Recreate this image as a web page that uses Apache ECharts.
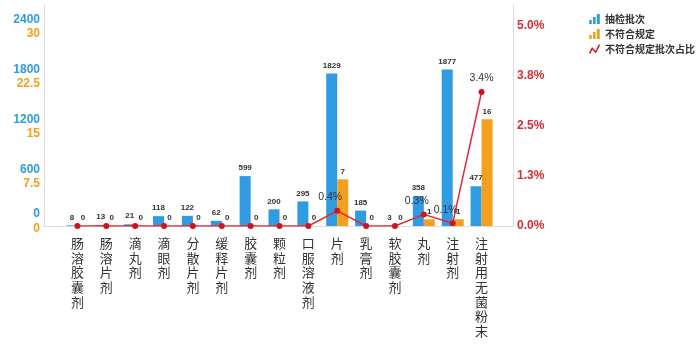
<!DOCTYPE html>
<html>
<head>
<meta charset="utf-8">
<script src="https://cdn.jsdelivr.net/npm/echarts@6/dist/echarts.min.js"></script>
<style>
html,body{margin:0;padding:0;background:#fff;}
#c{width:698px;height:353px;}
</style>
</head>
<body>
<div id="c"></div>
<script>
const categories = ['肠溶胶囊剂','肠溶片剂','滴丸剂','滴眼剂','分散片剂','缓释片剂','胶囊剂','颗粒剂','口服溶液剂','片剂','乳膏剂','软胶囊剂','丸剂','注射剂','注射用无菌粉末'];
const inspected = [8,13,21,118,122,62,599,200,295,1829,185,3,358,1877,477];
const failed = [0,0,0,0,0,0,0,0,0,7,0,0,1,1,16];
const failRatePct = [0,0,0,0,0,0,0,0,0,0.38,0,0,0.29,0.07,3.35];
const seriesNames = ['抽检批次','不符合规定','不符合规定批次占比'];

const BLUE = '#2f9be3', ORANGE = '#f5a01c', RED = '#e12b33';
const NUM_FONT = '"Liberation Sans", Arial, sans-serif';
const CJK_FONT = '"Noto Sans CJK SC", sans-serif';
const chart = echarts.init(document.getElementById('c'), null, {renderer:'canvas'});

const hiddenY = {axisLine:{show:false}, axisTick:{show:false}, splitLine:{show:false}};
const frameY = {type:'value', gridIndex:0, min:0, max:1, axisLine:{show:true, lineStyle:{color:'#dcdcdc'}}, axisTick:{show:false}, axisLabel:{show:false}, splitLine:{show:false}};

const option = {
  animation:false,
  backgroundColor:'#fff',
  legend:{
    orient:'vertical', left:584, top:9, itemGap:5, itemWidth:11, itemHeight:10,
    textStyle:{fontFamily:CJK_FONT, fontSize:10, fontWeight:'bold', color:'#333'},
    data:[
      {name:seriesNames[0], icon:'path://M0,6H2.6V10H0Z M3.8,3H6.4V10H3.8Z M7.6,0H10.6V10H7.6Z'},
      {name:seriesNames[1], icon:'path://M0,6H2.6V10H0Z M3.8,3H6.4V10H3.8Z M7.6,0H10.6V10H7.6Z'},
      {name:seriesNames[2], icon:'path://M0,9 L3,3 L6.5,7 L10,0 L11,1.2 L6.8,9.5 L3.3,5.5 L1.3,10 Z'}
    ]
  },
  grid:[
    {left:44, right:185, top:5, bottom:127},
    {left:63, right:202, top:26, bottom:127}
  ],
  xAxis:[
    {type:'value', gridIndex:0, min:0, max:1, axisLine:{show:true, onZero:false, lineStyle:{color:'#dcdcdc'}}, axisTick:{show:false}, axisLabel:{show:false}, splitLine:{show:false}},
    {type:'category', gridIndex:1, data:categories, offset:7,
      axisLine:{lineStyle:{color:'#dcdcdc'}},
      axisTick:{length:6, lineStyle:{color:'#dcdcdc'}},
      axisLabel:{interval:0, margin:3, fontFamily:CJK_FONT, fontSize:13, lineHeight:14.6, color:'#333',
        formatter:v=>v.split('').join('\n')}
    }
  ],
  yAxis:[
    Object.assign({position:'left'}, frameY),
    Object.assign({position:'right'}, frameY),
    Object.assign({type:'value', gridIndex:1, position:'left', offset:19, min:0, max:2400, interval:600,
      axisLabel:{margin:4, verticalAlign:'bottom', color:BLUE, fontFamily:NUM_FONT, fontSize:12, fontWeight:'bold',
        formatter:v=> v===0 ? '{z|0}' : '{a|'+v+'}',
        rich:{a:{lineHeight:13, color:BLUE, fontFamily:NUM_FONT, fontSize:12, fontWeight:'bold'},
              z:{lineHeight:24, color:BLUE, fontFamily:NUM_FONT, fontSize:12, fontWeight:'bold'}}}
    }, hiddenY),
    Object.assign({type:'value', gridIndex:1, position:'left', offset:19, min:0, max:30, interval:7.5,
      axisLabel:{margin:4, verticalAlign:'top', color:ORANGE, fontFamily:NUM_FONT, fontSize:12, fontWeight:'bold',
        formatter:v=> v===0 ? '{z|0}' : '{a|'+v+'}',
        rich:{a:{lineHeight:16, color:ORANGE, fontFamily:NUM_FONT, fontSize:12, fontWeight:'bold'},
              z:{lineHeight:6, color:ORANGE, fontFamily:NUM_FONT, fontSize:12, fontWeight:'bold'}}}
    }, hiddenY),
    Object.assign({type:'value', gridIndex:1, position:'right', offset:17, min:0, max:5, interval:1.25,
      axisLabel:{margin:4, color:RED, fontFamily:NUM_FONT, fontSize:12, fontWeight:'bold',
        formatter:v=>v.toFixed(1)+'%'}
    }, hiddenY)
  ],
  series:[
    {name:seriesNames[0], type:'bar', xAxisIndex:1, yAxisIndex:2, data:inspected, barWidth:11, barGap:'0%',
      itemStyle:{color:BLUE},
      label:{show:true, position:'top', distance:4, fontFamily:NUM_FONT, fontSize:8, fontWeight:'bold', color:'#333'}},
    {name:seriesNames[1], type:'bar', xAxisIndex:1, yAxisIndex:3, data:failed, barWidth:11, barGap:'0%',
      itemStyle:{color:ORANGE},
      label:{show:true, position:'top', distance:4, fontFamily:NUM_FONT, fontSize:8, fontWeight:'bold', color:'#333'}},
    {name:seriesNames[2], type:'line', xAxisIndex:1, yAxisIndex:4, z:5,
      data:failRatePct.map(v=>({value:v, label:{show:v>0, offset:[v<1 ? -7 : 0, 0]}})),
      symbol:'circle', symbolSize:6,
      lineStyle:{color:RED, width:1.5}, itemStyle:{color:'#d0141c'},
      label:{position:'top', distance:5, fontFamily:NUM_FONT, fontSize:10.5, color:'#333',
        formatter:p=>p.value.toFixed(1)+'%'}}
  ]
};
chart.setOption(option);
</script>
</body>
</html>
